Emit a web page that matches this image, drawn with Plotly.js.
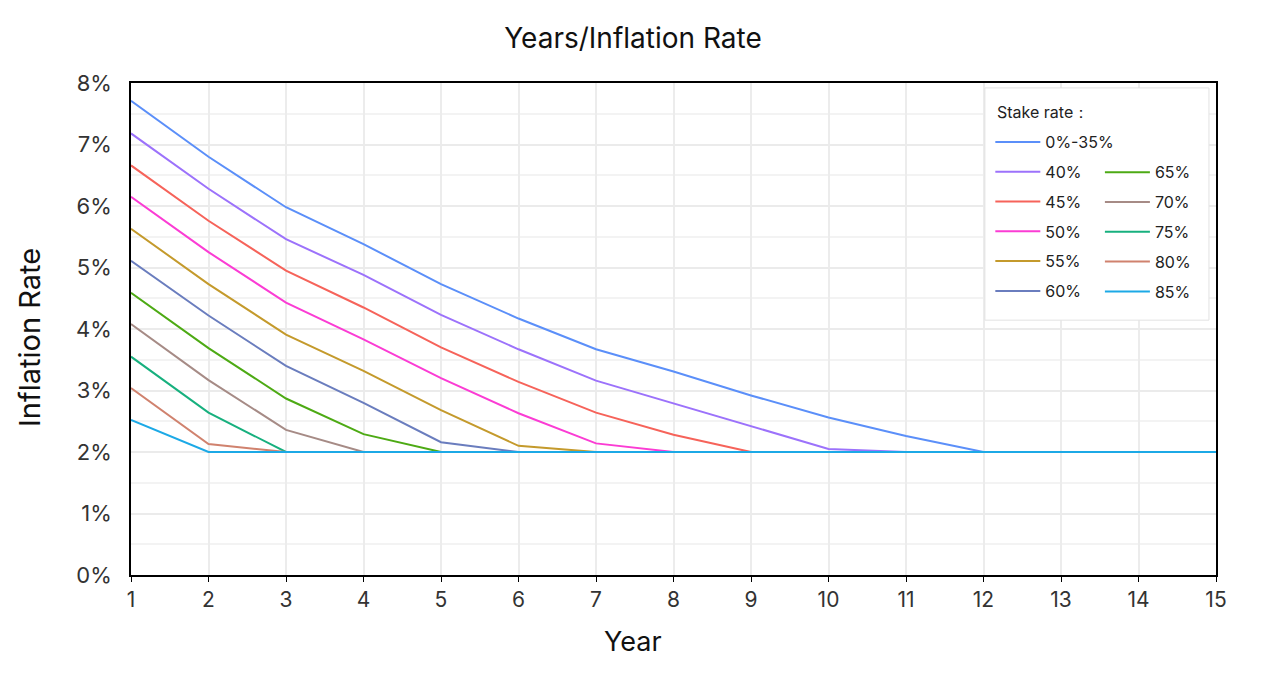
<!DOCTYPE html>
<html>
<head>
<meta charset="utf-8">
<script src="https://cdn.plot.ly/plotly-3.0.1.min.js"></script>
<style>
  html, body { margin: 0; padding: 0; background: #fff; }
  #chart { width: 1266px; height: 680px; }
</style>
</head>
<body>
<div id="chart"></div>
<script>
// Years since launch
const years = [1, 2, 3, 4, 5, 6, 7, 8, 9, 10, 11, 12, 13, 14, 15];

// Inflation rate (%) per year for each stake-rate band
const rate0to35 = [7.71, 6.80, 5.98, 5.38, 4.73, 4.17, 3.67, 3.31, 2.92, 2.56, 2.26, 2.0, 2.0, 2.0, 2.0];
const rate40 = [7.18, 6.28, 5.46, 4.88, 4.23, 3.67, 3.16, 2.79, 2.41, 2.05, 2.0, 2.0, 2.0, 2.0, 2.0];
const rate45 = [6.66, 5.76, 4.95, 4.35, 3.70, 3.14, 2.64, 2.28, 2.0, 2.0, 2.0, 2.0, 2.0, 2.0, 2.0];
const rate50 = [6.15, 5.25, 4.43, 3.83, 3.20, 2.63, 2.14, 2.0, 2.0, 2.0, 2.0, 2.0, 2.0, 2.0, 2.0];
const rate55 = [5.63, 4.73, 3.91, 3.32, 2.68, 2.10, 2.0, 2.0, 2.0, 2.0, 2.0, 2.0, 2.0, 2.0, 2.0];
const rate60 = [5.11, 4.22, 3.40, 2.80, 2.16, 2.0, 2.0, 2.0, 2.0, 2.0, 2.0, 2.0, 2.0, 2.0, 2.0];
const rate65 = [4.59, 3.69, 2.87, 2.29, 2.0, 2.0, 2.0, 2.0, 2.0, 2.0, 2.0, 2.0, 2.0, 2.0, 2.0];
const rate70 = [4.08, 3.17, 2.36, 2.0, 2.0, 2.0, 2.0, 2.0, 2.0, 2.0, 2.0, 2.0, 2.0, 2.0, 2.0];
const rate75 = [3.55, 2.64, 2.0, 2.0, 2.0, 2.0, 2.0, 2.0, 2.0, 2.0, 2.0, 2.0, 2.0, 2.0, 2.0];
const rate80 = [3.04, 2.13, 2.0, 2.0, 2.0, 2.0, 2.0, 2.0, 2.0, 2.0, 2.0, 2.0, 2.0, 2.0, 2.0];
const rate85 = [2.52, 2.0, 2.0, 2.0, 2.0, 2.0, 2.0, 2.0, 2.0, 2.0, 2.0, 2.0, 2.0, 2.0, 2.0];

const bandNames = ['0%-35%', '40%', '45%', '50%', '55%', '60%', '65%', '70%', '75%', '80%', '85%'];
const bandValues = [rate0to35, rate40, rate45, rate50, rate55, rate60, rate65, rate70, rate75, rate80, rate85];
const bandColors = ['#5B8FF9', '#9C72FB', '#F6635A', '#FB3CD4', '#C49A2C', '#6A7DBE',
                    '#4DAA14', '#A68B86', '#17B07E', '#D0826E', '#1CA9E6'];

const FONT = 'Inter, "Open Sans", sans-serif';

// First six bands go in the left legend column, the rest in the right one
const traces = bandNames.map((name, i) => ({
  type: 'scatter',
  mode: 'lines',
  name: name,
  x: years,
  y: bandValues[i],
  line: { color: bandColors[i], width: 2 },
  legend: i < 6 ? 'legend' : 'legend2',
  legendgroup: 'g' + i,
  hoverinfo: 'x+y+name'
}));

const legendCommon = {
  bgcolor: 'rgba(0,0,0,0)',
  borderwidth: 0,
  font: { family: FONT, size: 16, color: '#222' },
  tracegroupgap: 6,
  itemwidth: 45,
  xanchor: 'left',
  yanchor: 'top',
  traceorder: 'grouped'
};

const layout = {
  width: 1266,
  height: 680,
  margin: { l: 131, r: 50, t: 83, b: 105 },
  paper_bgcolor: '#fff',
  plot_bgcolor: '#fff',
  font: { family: FONT, color: '#333' },
  title: {
    text: 'Years/Inflation Rate',
    x: 0.5, xanchor: 'center',
    y: 0.944, yanchor: 'middle',
    font: { family: FONT, size: 28, color: '#111' }
  },
  xaxis: {
    range: [1, 15],
    dtick: 1,
    tick0: 1,
    showgrid: true,
    gridcolor: '#ececec',
    gridwidth: 2,
    zeroline: false,
    showline: true,
    linecolor: '#000',
    linewidth: 1.5,
    mirror: true,
    ticks: 'outside',
    ticklen: 5,
    tickcolor: '#000',
    tickfont: { family: FONT, size: 21, color: '#333' }
  },
  yaxis: {
    range: [0, 8],
    dtick: 1,
    ticksuffix: '%',
    showgrid: true,
    gridcolor: '#ebebeb',
    gridwidth: 2,
    minor: { dtick: 0.5, showgrid: true, gridcolor: '#f3f3f3', gridwidth: 1.5 },
    zeroline: false,
    showline: true,
    linecolor: '#000',
    linewidth: 1.5,
    mirror: true,
    ticks: '',
    ticklabelstandoff: 13,
    tickfont: { family: FONT, size: 22, color: '#333' }
  },
  // Axis titles and the legend heading
  annotations: [
    {
      text: 'Year',
      xref: 'paper', yref: 'paper',
      x: 0.4627, y: -0.136,
      xanchor: 'center', yanchor: 'middle',
      showarrow: false,
      font: { family: FONT, size: 27, color: '#111' }
    },
    {
      text: 'Inflation Rate',
      xref: 'paper', yref: 'paper',
      x: -0.093, y: 0.482,
      xanchor: 'center', yanchor: 'middle',
      textangle: -90,
      showarrow: false,
      font: { family: FONT, size: 29, color: '#111' }
    },
    {
      text: 'Stake rate：',
      xref: 'paper', yref: 'paper',
      x: 0.7963, y: 0.941,
      xanchor: 'left', yanchor: 'middle',
      showarrow: false,
      font: { family: FONT, size: 16, color: '#222' }
    }
  ],
  legend: Object.assign({}, legendCommon, {
    x: 0.792, y: 0.9146
  }),
  legend2: Object.assign({}, legendCommon, {
    x: 0.893, y: 0.853
  }),
  // Frame around both legend columns
  shapes: [{
    type: 'rect',
    xref: 'paper', yref: 'paper',
    x0: 0.787, x1: 0.9935, y0: 0.518, y1: 0.990,
    line: { color: '#e2e2e2', width: 1 },
    fillcolor: 'rgba(255,255,255,1)',
    layer: 'above'
  }],
  showlegend: true
};

Plotly.newPlot('chart', traces, layout, { displayModeBar: false, responsive: false });
</script>
</body>
</html>
